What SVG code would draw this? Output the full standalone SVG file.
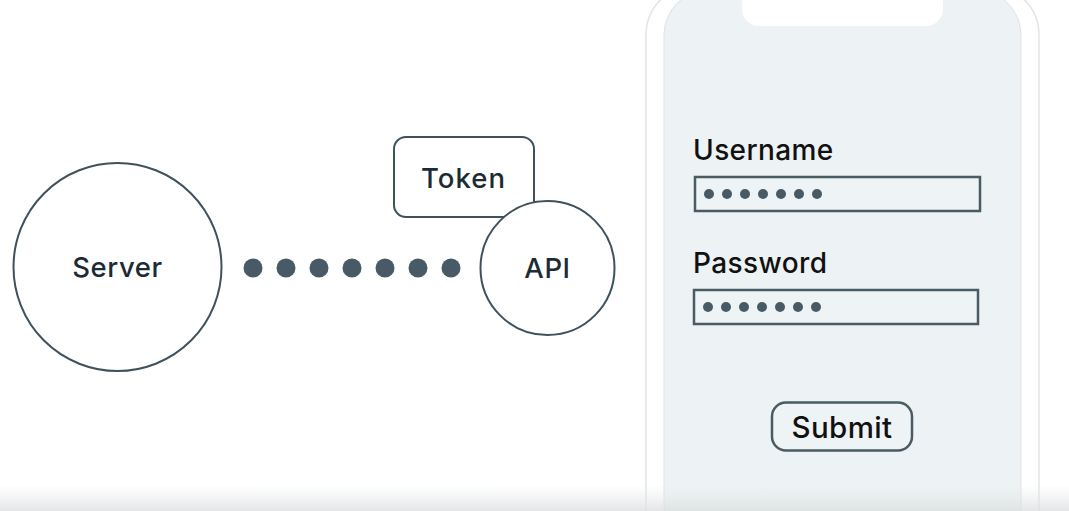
<svg xmlns="http://www.w3.org/2000/svg" width="1069" height="511" viewBox="0 0 1069 511">
<style>
.t{font-family:Inter,"Noto Sans","Liberation Sans",sans-serif;font-weight:500}
.n{fill:#fff;stroke:#3f515b;stroke-width:2}
.dot{fill:#475a65}
.fld{fill:#eef4f5;stroke:#4a5b64;stroke-width:2.5}
</style>
<defs>
<linearGradient id="shade" x1="0" y1="0" x2="0" y2="1">
<stop offset="0" stop-color="#e4e7e8" stop-opacity="0"/>
<stop offset="1" stop-color="#dcdfe0" stop-opacity="0.8"/>
</linearGradient>
</defs>
<rect width="1069" height="511" fill="#ffffff"/>
<g id="phone">
<rect x="646" y="-15" width="393" height="620" rx="50" fill="#ffffff" stroke="#e2e5e6" stroke-width="1.5"/>
<rect x="664" y="-10" width="357" height="560" rx="45" fill="#edf3f4" stroke="#dfe3e4" stroke-width="1"/>
<rect x="742" y="-30" width="201" height="56" rx="17" fill="#ffffff"/>
</g>
<g id="connectors">
<circle class="dot" cx="253" cy="268" r="9.5"/>
<circle class="dot" cx="286" cy="268" r="9.5"/>
<circle class="dot" cx="319" cy="268" r="9.5"/>
<circle class="dot" cx="352" cy="268" r="9.5"/>
<circle class="dot" cx="385" cy="268" r="9.5"/>
<circle class="dot" cx="418" cy="268" r="9.5"/>
<circle class="dot" cx="451" cy="268" r="9.5"/>
</g>
<g id="server">
<circle class="n" cx="117.5" cy="267" r="104"/>
<text class="t" x="117.5" y="277" font-size="27.5" letter-spacing="0.6" text-anchor="middle" fill="#1c2b33">Server</text>
</g>
<g id="token">
<rect class="n" x="394" y="137" width="140" height="80" rx="12"/>
<text class="t" x="463.5" y="188" font-size="27.5" letter-spacing="1" text-anchor="middle" fill="#1c2b33">Token</text>
</g>
<g id="api">
<circle class="n" cx="547.5" cy="268" r="67"/>
<text class="t" x="547.5" y="278" font-size="27.5" letter-spacing="0.6" text-anchor="middle" fill="#1c2b33">API</text>
</g>
<g id="username">
<text class="t" x="693" y="160" font-size="28" letter-spacing="0.4" fill="#111">Username</text>
<rect class="fld" x="695" y="177" width="285" height="34"/>
<g class="dot">
<circle cx="709" cy="194" r="5"/><circle cx="727" cy="194" r="5"/><circle cx="745" cy="194" r="5"/><circle cx="763" cy="194" r="5"/><circle cx="781" cy="194" r="5"/><circle cx="799" cy="194" r="5"/><circle cx="817" cy="194" r="5"/>
</g>
</g>
<g id="password">
<text class="t" x="693" y="273" font-size="28" letter-spacing="0.4" fill="#111">Password</text>
<rect class="fld" x="694" y="290" width="284" height="34"/>
<g class="dot">
<circle cx="708" cy="307" r="5"/><circle cx="726" cy="307" r="5"/><circle cx="744" cy="307" r="5"/><circle cx="762" cy="307" r="5"/><circle cx="780" cy="307" r="5"/><circle cx="798" cy="307" r="5"/><circle cx="816" cy="307" r="5"/>
</g>
</g>
<g id="submit">
<rect x="772" y="402.5" width="140" height="48" rx="14" fill="#eef4f5" stroke="#4a5b64" stroke-width="2.5"/>
<text class="t" x="842" y="437.5" font-size="29.5" letter-spacing="0.4" text-anchor="middle" fill="#111">Submit</text>
</g>
<rect x="0" y="485" width="1069" height="26" fill="url(#shade)"/>
</svg>
